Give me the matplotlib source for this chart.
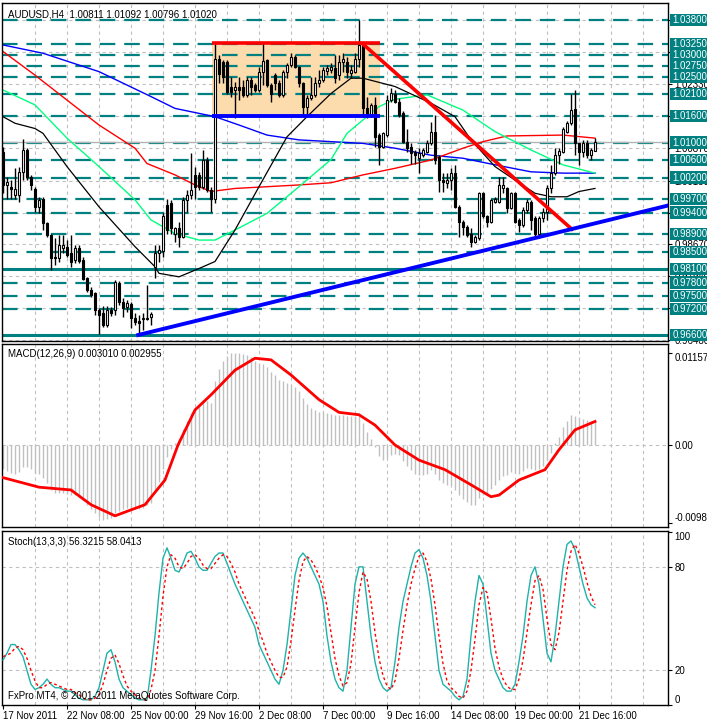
import matplotlib
matplotlib.use("Agg")
import matplotlib.pyplot as plt
import matplotlib.transforms as mtransforms
from matplotlib.patches import Rectangle
import numpy as np

plt.rcParams['font.family'] = ['Liberation Sans', 'DejaVu Sans']

# ---------------- data (AUDUSD H4) ----------------
opens = [1.0079,1.0003,0.9999,0.9980,0.9980,1.0033,1.0083,1.0022,0.9993,0.9953,
         0.9970,0.9917,0.9889,0.9839,0.9835,0.9858,0.9862,0.9847,0.9831,0.9858,
         0.9831,0.9790,0.9764,0.9755,0.9717,0.9710,0.9683,0.9717,0.9717,0.9780,
         0.9736,0.9723,0.9732,0.9698,0.9692,0.9696,0.9696,0.9702,0.9816,0.9848,
         0.9851,0.9957,0.9961,0.9892,0.9904,0.9885,0.9969,0.9980,1.0026,1.0026,
         0.9999,1.0061,0.9991,0.9970,1.0290,1.0285,1.0285,1.0226,1.0220,1.0226,
         1.0226,1.0209,1.0244,1.0231,1.0220,1.0262,1.0289,1.0231,1.0254,1.0235,
         1.0209,1.0262,1.0277,1.0295,1.0273,1.0235,1.0182,1.0201,1.0209,1.0235,
         1.0244,1.0264,1.0266,1.0270,1.0254,1.0285,1.0285,1.0260,1.0262,1.0290,
         1.0323,1.0178,1.0163,1.0186,1.0117,1.0090,1.0117,1.0197,1.0212,1.0193,
         1.0167,1.0102,1.0090,1.0079,1.0064,1.0071,1.0079,1.0098,1.0125,1.0068,
         1.0014,1.0007,1.0014,1.0030,0.9953,0.9919,0.9908,0.9892,0.9873,0.9881,
         0.9985,0.9931,0.9919,0.9965,0.9965,0.9995,0.9995,0.9950,0.9984,0.9923,
         0.9911,0.9946,0.9965,0.9927,0.9892,0.9927,0.9942,0.9995,1.0030,1.0071,
         1.0079,1.0125,1.0144,1.0176,1.0100,1.0079,1.0100,1.0071,1.00811]
highs = [1.0090,1.0022,1.0014,1.0041,1.0045,1.0107,1.0087,1.0026,0.9999,0.9976,
         0.9976,0.9919,0.9892,0.9881,0.9889,0.9889,0.9877,0.9889,0.9866,0.9866,
         0.9839,0.9793,0.9770,0.9759,0.9721,0.9726,0.9726,0.9723,0.9786,0.9784,
         0.9744,0.9740,0.9736,0.9710,0.9706,0.9710,0.9774,0.9713,0.9866,0.9866,
         0.9938,0.9972,0.9969,0.9908,0.9919,0.9976,0.9991,1.0075,1.0045,1.0033,
         1.0084,1.0068,0.9999,1.0330,1.0300,1.0289,1.0289,1.0250,1.0239,1.0250,
         1.0243,1.0250,1.0249,1.0235,1.0273,1.0327,1.0292,1.0235,1.0260,1.0243,
         1.0266,1.0281,1.0305,1.0300,1.0275,1.0239,1.0209,1.0250,1.0250,1.0266,
         1.0273,1.0277,1.0281,1.0300,1.0300,1.0304,1.0295,1.0277,1.0304,1.0380,
         1.0327,1.0205,1.0190,1.0205,1.0121,1.0125,1.0209,1.0224,1.0220,1.0201,
         1.0171,1.0132,1.0098,1.0083,1.0087,1.0087,1.0106,1.0148,1.0163,1.0071,
         1.0030,1.0030,1.0041,1.0049,0.9957,0.9923,0.9911,0.9904,0.9889,0.9988,
         0.9988,0.9934,0.9972,0.9976,1.0022,1.0022,0.9999,0.9988,0.9988,0.9927,
         0.9953,0.9970,0.9969,0.9931,0.9931,0.9950,1.0003,1.0049,1.0087,1.0087,
         1.0136,1.0150,1.0212,1.0220,1.0100,1.0106,1.0106,1.0087,1.01092]
lows = [0.9985,0.9972,0.9972,0.9972,0.9965,1.0014,1.0014,0.9991,0.9942,0.9938,
        0.9900,0.9885,0.9809,0.9820,0.9828,0.9847,0.9839,0.9816,0.9824,0.9824,
        0.9786,0.9759,0.9748,0.9706,0.9662,0.9679,0.9679,0.9703,0.9706,0.9729,
        0.9702,0.9713,0.9675,0.9683,0.9664,0.9671,0.9694,0.9683,0.9790,0.9828,
        0.9839,0.9892,0.9892,0.9873,0.9862,0.9881,0.9942,0.9972,0.9972,0.9991,
        0.9993,0.9988,0.9942,0.9961,1.0235,1.0235,1.0212,1.0205,1.0155,1.0197,
        1.0205,1.0205,1.0209,1.0216,1.0216,1.0231,1.0228,1.0193,1.0220,1.0205,
        1.0205,1.0247,1.0273,1.0270,1.0228,1.0163,1.0159,1.0197,1.0205,1.0228,
        1.0239,1.0254,1.0258,1.0235,1.0243,1.0262,1.0247,1.0247,1.0258,1.0273,
        1.0163,1.0155,1.0159,1.0090,1.0049,1.0087,1.0113,1.0193,1.0190,1.0159,
        1.0098,1.0079,1.0052,1.0052,1.0030,1.0068,1.0075,1.0094,1.0052,0.9988,
        0.9988,0.9995,0.9991,0.9950,0.9885,0.9889,0.9885,0.9862,0.9870,0.9877,
        0.9927,0.9908,0.9915,0.9961,0.9961,0.9984,0.9938,0.9947,0.9915,0.9896,
        0.9908,0.9938,0.9900,0.9885,0.9889,0.9919,0.9923,0.9984,1.0026,1.0052,
        1.0075,1.0121,1.0140,1.0071,1.0049,1.0068,1.0064,1.0060,1.00796]
closes = [1.0003,1.0010,0.9993,0.9993,1.0033,1.0083,1.0022,1.0003,0.9953,0.9969,
          0.9917,0.9889,0.9835,0.9835,0.9866,0.9866,0.9843,0.9828,0.9858,0.9830,
          0.9787,0.9763,0.9751,0.9717,0.9706,0.9683,0.9717,0.9710,0.9782,0.9736,
          0.9721,0.9734,0.9698,0.9690,0.9688,0.9698,0.9700,0.9707,0.9847,0.9854,
          0.9931,0.9900,0.9904,0.9904,0.9885,0.9969,0.9980,0.9991,0.9999,0.9999,
          1.0061,0.9991,0.9972,1.0290,1.0257,1.0250,1.0216,1.0216,1.0226,1.0220,
          1.0209,1.0244,1.0226,1.0220,1.0262,1.0287,1.0231,1.0212,1.0235,1.0209,
          1.0262,1.0277,1.0295,1.0273,1.0235,1.0182,1.0201,1.0209,1.0235,1.0244,
          1.0266,1.0270,1.0273,1.0247,1.0285,1.0292,1.0262,1.0266,1.0290,1.0323,
          1.0178,1.0163,1.0186,1.0113,1.0090,1.0121,1.0197,1.0214,1.0193,1.0163,
          1.0102,1.0087,1.0075,1.0071,1.0077,1.0083,1.0098,1.0125,1.0060,1.0014,
          1.0010,1.0014,1.0030,0.9953,0.9919,0.9908,0.9889,0.9873,0.9883,0.9985,
          0.9931,0.9919,0.9969,0.9970,1.0003,1.0003,0.9950,0.9984,0.9919,0.9911,
          0.9946,0.9965,0.9923,0.9892,0.9927,0.9942,0.9995,1.0030,1.0071,1.0081,
          1.0132,1.0144,1.0174,1.0098,1.0079,1.0100,1.0071,1.0083,1.01020]

# moving averages, read as (bar, price) points
blue_ma_x = [0, 10, 24, 37, 43, 53, 59, 66, 74, 82, 90, 98, 107, 115, 123, 132, 140, 148]
blue_ma_y = [1.0323, 1.0304, 1.0262, 1.0205, 1.0178, 1.0159, 1.0140, 1.0117, 1.0106,
             1.0102, 1.0098, 1.0087, 1.0071, 1.0064, 1.0049, 1.0033, 1.0030, 1.0030]
red_ma_x = [0, 8, 16, 24, 33, 36, 43, 48, 52, 58, 66, 74, 82, 90, 98, 107, 115, 120, 126, 140, 148]
red_ma_y = [1.0308, 1.0254, 1.0197, 1.0140, 1.0087, 1.0052, 1.0026, 1.0003, 0.9988, 0.9995,
            0.9999, 1.0003, 1.0008, 1.0026, 1.0041, 1.0060, 1.0087, 1.0102, 1.0115, 1.0117, 1.0110]
green_ma_x = [0, 8, 16, 24, 33, 37, 43, 49, 53, 58, 66, 74, 82, 86, 94, 98, 106, 115, 123, 132, 140, 148]
green_ma_y = [1.0220, 1.0186, 1.0110, 1.0045, 0.9969, 0.9923, 0.9892, 0.9877, 0.9877, 0.9900,
              0.9938, 0.9999, 1.0061, 1.0121, 1.0182, 1.0199, 1.0209, 1.0174, 1.0125, 1.0083,
              1.0049, 1.0030]
black_ma_x = [0, 3, 8, 10, 16, 24, 33, 38, 39, 44, 49, 53, 58, 64, 71, 76, 82, 87, 90, 98,
              107, 113, 117, 123, 128, 133, 137, 141, 144, 148]
black_ma_y = [1.0159, 1.0144, 1.0132, 1.0121, 1.0045, 0.9953, 0.9862, 0.9816, 0.9801, 0.9793,
              0.9812, 0.9828, 0.9900, 0.9999, 1.0113, 1.0159, 1.0212, 1.0247, 1.0247, 1.0228,
              1.0190, 1.0159, 1.0106, 1.0045, 1.0014, 0.9984, 0.9976, 0.9976, 0.9988, 0.9995]

# horizontal support / resistance levels
levels = [1.0380, 1.0325, 1.0300, 1.0275, 1.0250, 1.0210, 1.0160, 1.0100, 1.0060, 1.0020,
          0.9970, 0.9940, 0.9890, 0.9850, 0.9810, 0.9780, 0.9750, 0.9720, 0.9660]
solid_levels = [0.9810, 0.9660]
bid = 1.0102

# drawn objects
range_box = dict(x0=52.2, x1=94.25, lo=1.0160, hi=1.0327)
red_trend = ([90, 142.2], [1.0325, 0.9902])
blue_trend = ([33.8, 166.25], [0.9660, 0.9956])

price_ticks = [1.0379, 1.0306, 1.0233, 1.0160, 1.0087, 1.0013, 0.9940, 0.9867, 0.9794, 0.9721, 0.9648]

# MACD (values in 1e-3)
macd_main = [-3.0,-3.3,-3.5,-3.6,-3.4,-2.8,-2.8,-3.0,-3.5,-3.7,
             -4.2,-4.8,-5.6,-6.0,-6.0,-6.0,-6.1,-6.3,-6.3,-6.4,
             -6.9,-7.5,-8.0,-8.6,-9.1,-9.4,-9.3,-9.2,-8.6,-8.3,
             -8.1,-7.9,-8.0,-8.0,-8.0,-7.9,-7.6,-7.3,-5.8,-4.6,
             -3.0,-1.5,-0.5,0.3,0.8,2.0,3.0,4.0,4.6,5.0,
             5.6,5.5,5.3,8.0,9.6,10.6,11.2,11.5,11.6,11.5,
             11.4,11.3,11.0,10.6,10.3,10.2,9.8,9.2,8.8,8.2,
             8.0,7.8,7.6,7.3,6.8,5.9,5.2,4.7,4.4,4.2,
             4.1,4.0,3.9,3.8,3.8,3.8,3.7,3.6,3.7,4.0,
             2.8,1.6,0.8,-0.3,-1.4,-1.9,-1.6,-1.2,-1.1,-1.3,
             -2.0,-2.7,-3.2,-3.6,-3.8,-3.8,-3.6,-3.2,-3.6,-4.4,
             -4.8,-5.0,-5.0,-5.6,-6.3,-6.8,-7.2,-7.5,-7.5,-6.6,
             -6.3,-6.0,-5.5,-5.0,-4.4,-3.9,-3.8,-3.4,-3.5,-3.6,
             -3.3,-2.9,-3.0,-3.2,-3.0,-2.7,-1.9,-1.0,0.2,1.0,
             2.2,3.0,3.8,3.7,3.4,3.3,3.1,3.0,3.010]
macd_sig_x = [0, 9, 17, 22, 28, 35.5, 40.5, 43.75, 48, 52, 58, 63, 67, 72, 79, 84, 89, 93,
              98, 104, 110.5, 117, 122, 124, 129, 135.5, 139, 143, 148]
macd_sig_y = [-4.1, -5.3, -5.65, -7.5, -8.9, -7.5, -4.4, 0.0, 4.4, 6.3, 9.4, 10.9, 10.7, 8.8,
              5.7, 4.1, 3.8, 2.5, 0.0, -1.9, -3.1, -5.0, -6.5, -6.3, -4.4, -3.1, -0.6, 1.9, 2.955]

# Stochastic
stoch_k = [26,30,35,35,32,28,20,12,9,10,
           12,15,12,10,10,9,8,8,6,4,
           3,3,3,5,10,20,30,32,25,15,
           10,8,6,4,3,3,3,20,40,65,
           85,91,85,78,77,82,88,89,85,80,
           78,78,82,86,88,88,82,76,70,65,
           60,55,50,45,35,30,25,20,15,12,
           20,35,55,75,85,88,85,80,75,70,
           60,40,25,15,10,8,20,45,70,80,
           80,60,40,25,15,10,8,10,25,45,
           60,70,80,88,90,85,75,60,40,20,
           12,10,8,5,3,5,15,40,60,75,
           70,50,30,20,15,10,8,8,12,25,
           40,60,75,80,70,50,30,25,40,60,
           80,93,95,90,80,70,62,58,56.3215]
stoch_d = [28,29,30,33,34,32,27,20,14,10,
           10,12,13,12,11,10,9,9,7,6,
           4,3,3,4,6,12,20,27,29,24,
           17,11,8,6,4,3,3,9,20,40,
           63,80,87,85,80,79,82,86,87,85,
           81,79,79,82,85,87,86,82,77,70,
           65,60,55,50,43,37,30,25,20,16,
           16,22,37,55,72,83,86,84,80,75,
           68,57,42,27,17,11,13,24,45,65,
           77,73,60,42,27,17,11,9,14,27,
           43,58,70,79,86,88,83,73,58,40,
           24,14,10,8,5,4,8,20,38,58,
           68,65,50,33,22,15,11,9,9,15,
           26,42,58,72,75,67,50,35,32,42,
           60,78,89,93,88,80,71,63,58.0413]

date_ticks = [0, 16, 32, 48, 64, 80, 96, 112, 128, 144]
date_labels = ["17 Nov 2011", "22 Nov 08:00", "25 Nov 00:00", "29 Nov 16:00", "2 Dec 08:00",
               "7 Dec 00:00", "9 Dec 16:00", "14 Dec 08:00", "19 Dec 00:00", "21 Dec 16:00"]

# ---------------- figure ----------------
W, H = 707, 723
fig = plt.figure(figsize=(W / 100, H / 100), dpi=100)
fig.patch.set_facecolor("white")


def px_axes(x0, y0, x1, y1):
    return fig.add_axes([x0 / W, 1 - y1 / H, (x1 - x0) / W, (y1 - y0) / H])


ax = px_axes(2, 3, 668, 341)
axm = px_axes(2, 344, 668, 527)
axs = px_axes(2, 531, 668, 705)

GRID = "#c0c0c0"
TEAL = "#008080"
FS = 7
xlim = (-0.25, 166.25)
vgrid = np.arange(8, 166, 8)

for a in (ax, axm, axs):
    a.set_xlim(*xlim)
    a.set_facecolor("white")
    for s in a.spines.values():
        s.set_color("black")
        s.set_linewidth(1)
    a.yaxis.tick_right()
    a.tick_params(axis="y", length=3, width=0.8, labelsize=FS, pad=1.5, colors="black")
    for gx in vgrid:
        a.axvline(gx, color=GRID, lw=0.8, ls=(0, (3, 3)), zorder=0.5)

# ---- main price panel ----
ax.set_ylim(0.96463, 1.04189)
ax.set_xticks([])
ax.set_yticks(price_ticks)
ax.set_yticklabels([f"{p:.5f}" for p in price_ticks])
for p in price_ticks:
    ax.axhline(p, color=GRID, lw=0.8, ls=(0, (3, 3)), zorder=0.5)

ax.add_patch(Rectangle((range_box["x0"], range_box["lo"]), range_box["x1"] - range_box["x0"],
                       range_box["hi"] - range_box["lo"], facecolor="#fcdcac", edgecolor="none", zorder=0.8))

for lv in levels:
    if lv in solid_levels:
        ax.axhline(lv, color=TEAL, lw=2.2, zorder=1)
    else:
        ax.axhline(lv, color=TEAL, lw=1.6, ls=(0, (7, 4)), zorder=1)
ax.axhline(bid, color="#b4b4b4", lw=1, zorder=1.1)

ax.plot(blue_ma_x, blue_ma_y, color="#0000ff", lw=1, zorder=2)
ax.plot(red_ma_x, red_ma_y, color="#ff0000", lw=1, zorder=2)
ax.plot(green_ma_x, green_ma_y, color="#00ff80", lw=1, zorder=2)
ax.plot(black_ma_x, black_ma_y, color="black", lw=0.9, zorder=2)

o, h, l, c = map(np.array, (opens, highs, lows, closes))
xb = np.arange(len(o))
ax.vlines(xb, l, h, color="black", lw=1, zorder=4)
up = c >= o
lo_body = np.minimum(o, c)
body = np.maximum(np.abs(c - o), 0.00005)
ax.bar(xb[up], body[up], bottom=lo_body[up], width=0.55, color="white", edgecolor="black", lw=0.8, zorder=5)
ax.bar(xb[~up], body[~up], bottom=lo_body[~up], width=0.55, color="black", edgecolor="black", lw=0.8, zorder=5)

ax.plot([range_box["x0"], range_box["x1"]], [range_box["hi"]] * 2, color="#ff0000", lw=2.6, zorder=6,
        solid_capstyle="butt")
ax.plot([range_box["x0"], range_box["x1"]], [range_box["lo"]] * 2, color="#0000ff", lw=2.8, zorder=6,
        solid_capstyle="butt")
ax.plot(*red_trend, color="#ff0000", lw=2.6, zorder=6)
ax.plot(*blue_trend, color="#0000ff", lw=2.8, zorder=6)

# teal price boxes on the right scale
tr = mtransforms.blended_transform_factory(ax.transAxes, ax.transData)
box_h = 0.00275
for lv in levels:
    ax.add_patch(Rectangle((1.003, lv - box_h / 2), 0.1, box_h, transform=tr, facecolor=TEAL,
                           edgecolor="none", clip_on=False, zorder=10))
    ax.text(1.007, lv, f"{lv:.5f}", transform=tr, color="white", fontsize=FS, va="center", ha="left",
            clip_on=False, zorder=11)

ax.text(0.009, 0.982, "AUDUSD,H4  1.00811 1.01092 1.00796 1.01020", transform=ax.transAxes,
        fontsize=FS, va="top", ha="left", zorder=12)

# ---- MACD panel ----
macd_scale = 1e-3
axm.set_ylim(-0.010303, 0.012690)
axm.set_xticks([])
axm.vlines(xb, 0, np.array(macd_main) * macd_scale, color="#c0c0c0", lw=1, zorder=2)
axm.plot(macd_sig_x, np.array(macd_sig_y) * macd_scale, color="#ff0000", lw=2, zorder=3)
axm.axhline(0, color=GRID, lw=0.8, ls=(0, (3, 3)), zorder=0.5)
axm.set_yticks([0.01157, 0.0, -0.0098])
axm.set_yticklabels(["0.01157", "0.00", "-0.00980"])
tl = axm.get_yticklabels()
tl[0].set_va("top")
tl[2].set_va("bottom")
axm.text(0.009, 0.97, "MACD(12,26,9) 0.003010 0.002955", transform=axm.transAxes,
         fontsize=FS, va="top", ha="left")

# ---- Stochastic panel ----
axs.set_ylim(0.4, 100.75)
axs.plot(xb, stoch_k, color="#20b2aa", lw=1, zorder=3)
axs.plot(xb, stoch_d, color="#ff0000", lw=1, ls=(0, (2, 2)), zorder=3)
for lv in (20, 80):
    axs.axhline(lv, color=GRID, lw=0.8, ls=(0, (3, 3)), zorder=0.5)
axs.set_yticks([100, 80, 20, 0])
axs.set_yticklabels(["100", "80", "20", "0"])
tl = axs.get_yticklabels()
tl[0].set_va("top")
tl[3].set_va("bottom")
axs.text(0.009, 0.965, "Stoch(13,3,3) 56.3215 58.0413", transform=axs.transAxes,
         fontsize=FS, va="top", ha="left")
axs.text(0.009, 0.025, "FxPro MT4, \u00a9 2001-2011 MetaQuotes Software Corp.", transform=axs.transAxes,
         fontsize=FS, va="bottom", ha="left")
axs.set_xticks(date_ticks)
axs.set_xticklabels(date_labels, fontsize=FS, ha="left")
axs.tick_params(axis="x", length=3, width=0.8, pad=1.5)

fig.savefig("out.png", dpi=100)
